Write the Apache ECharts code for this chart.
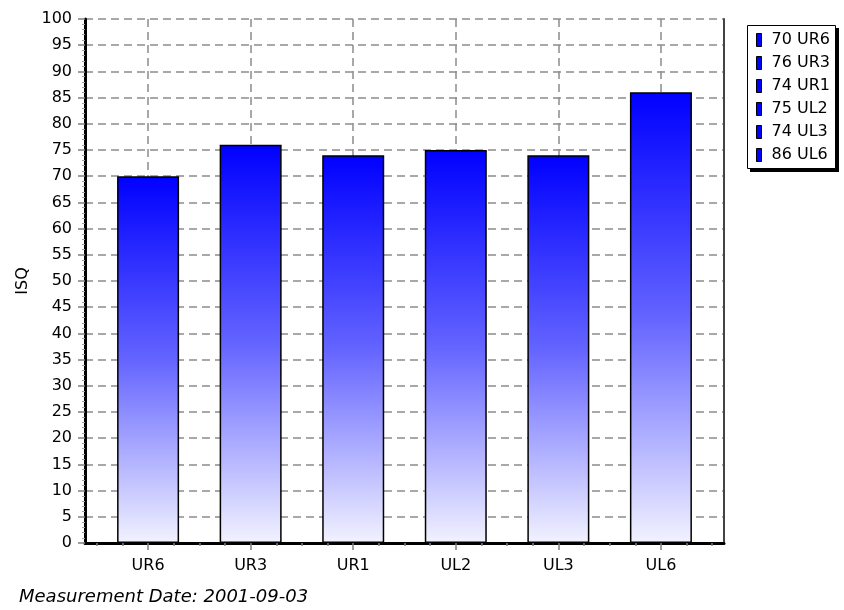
<!DOCTYPE html>
<html>
<head>
<meta charset="utf-8">
<script src="https://cdn.jsdelivr.net/npm/echarts@6/dist/echarts.min.js"></script>
<style>
  html, body { margin: 0; padding: 0; background: #fff; }
  #chart { width: 844px; height: 610px; }
</style>
</head>
<body>
<div id="chart"></div>
<script>
// Teeth measured and their ISQ readings
const categories = ['UR6', 'UR3', 'UR1', 'UL2', 'UL3', 'UL6'];
const isqValues = [70, 76, 74, 75, 74, 86];
const measurementDate = '2001-09-03';

// Category slots on the x scale (one unit per tooth)
const categoryPositions = categories.map((_, i) => i);
// Quarter-step minor tick marks along the x axis
const quarterPositions = [];
for (let q = -2; q <= categories.length * 4 - 2; q++) {
  if (q % 4 !== 0) quarterPositions.push(q / 4);
}

const FONT = 'DejaVu Sans';
const GRID_DASH = { type: [8, 5], color: '#8c8c8c', width: 1.5 };
const X_MIN = -0.615;
const X_MAX = 5.615;
const GRID_BOX = { left: 85, right: 120, top: 19, bottom: 67 };

const barFill = new echarts.graphic.LinearGradient(0, 0, 0, 1, [
  { offset: 0, color: '#0000ff' },
  { offset: 0.5, color: '#6464ff' },
  { offset: 1, color: '#f2f2ff' }
]);

const series = categories.map((name, i) => ({
  name: name,
  type: 'bar',
  barWidth: 62,
  barGap: '-100%',
  xAxisIndex: 0,
  yAxisIndex: 0,
  data: [[i, isqValues[i]]],
  itemStyle: { color: barFill, borderColor: '#000', borderWidth: 1.5 },
  emphasis: { disabled: true }
}));

const chart = echarts.init(document.getElementById('chart'), null, { renderer: 'canvas' });
chart.setOption({
  animation: false,
  backgroundColor: '#fff',
  textStyle: { fontFamily: FONT },
  title: {
    text: 'Measurement Date: ' + measurementDate,
    left: 19,
    top: 588,
    padding: 0,
    textStyle: { fontFamily: FONT, fontSize: 18, fontStyle: 'italic', fontWeight: 'normal', color: '#000' }
  },
  // legend frame with its drop shadow
  graphic: [
    { type: 'rect', z: 1, silent: true, shape: { x: 750, y: 28, width: 89, height: 144 }, style: { fill: '#000' } },
    { type: 'rect', z: 2, silent: true, shape: { x: 747.5, y: 25.5, width: 88, height: 143 }, style: { fill: '#fff', stroke: '#000', lineWidth: 1 } }
  ],
  grid: [
    Object.assign({}, GRID_BOX),
    Object.assign({}, GRID_BOX)
  ],
  legend: {
    orient: 'vertical',
    left: 756,
    top: 32,
    z: 5,
    selectedMode: false,
    icon: 'rect',
    itemWidth: 5,
    itemHeight: 13,
    itemGap: 7,
    padding: 0,
    itemStyle: { color: '#0000ff', borderColor: '#000', borderWidth: 1 },
    textStyle: { fontFamily: FONT, fontSize: 16, color: '#000', padding: [0, 0, 0, 5] },
    data: categories,
    formatter: name => isqValues[categories.indexOf(name)] + ' ' + name
  },
  xAxis: [
    {
      type: 'value',
      gridIndex: 0,
      min: X_MIN,
      max: X_MAX,
      position: 'bottom',
      axisLine: { show: true, onZero: false, lineStyle: { color: '#000', width: 3 } },
      axisTick: { show: true, customValues: categoryPositions, length: 7, lineStyle: { color: '#808080', width: 1.5 } },
      axisLabel: {
        customValues: categoryPositions,
        formatter: v => categories[Math.round(v)],
        margin: 15,
        fontFamily: FONT,
        fontSize: 16,
        color: '#000'
      },
      splitLine: { show: true, lineStyle: GRID_DASH }
    },
    {
      type: 'value',
      gridIndex: 1,
      min: X_MIN,
      max: X_MAX,
      position: 'bottom',
      axisLine: { show: false, onZero: false },
      axisTick: { show: true, customValues: quarterPositions, length: 3, lineStyle: { color: '#808080', width: 1.5 } },
      axisLabel: { show: false },
      splitLine: { show: false }
    }
  ],
  yAxis: [
    {
      type: 'value',
      gridIndex: 0,
      min: 0,
      max: 100,
      interval: 5,
      position: 'left',
      name: 'ISQ',
      nameLocation: 'middle',
      nameGap: 52,
      nameTextStyle: { fontFamily: FONT, fontSize: 16, color: '#000' },
      axisLine: { show: true, onZero: false, lineStyle: { color: '#000', width: 3 } },
      axisTick: { show: true, length: 7, lineStyle: { color: '#808080', width: 1.5 } },
      minorTick: { show: true, splitNumber: 5, length: 3, lineStyle: { color: '#a0a0a0' } },
      axisLabel: { margin: 13, fontFamily: FONT, fontSize: 16, color: '#000' },
      splitLine: { show: true, lineStyle: GRID_DASH }
    },
    {
      type: 'value',
      gridIndex: 1,
      min: 0,
      max: 100,
      position: 'right',
      axisLine: { show: true, onZero: false, lineStyle: { color: '#444', width: 2 } },
      axisTick: { show: false },
      axisLabel: { show: false },
      splitLine: { show: false }
    }
  ],
  series: series
});
</script>
</body>
</html>
